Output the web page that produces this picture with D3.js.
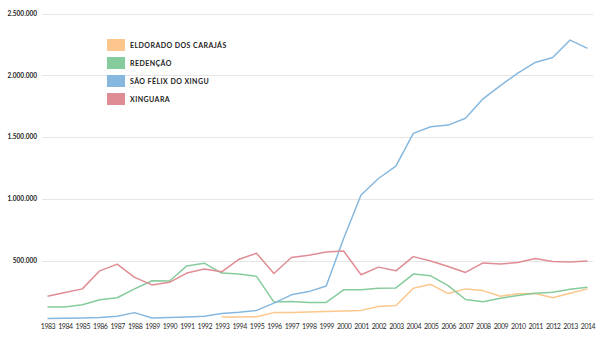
<!DOCTYPE html>
<html><head><meta charset="utf-8">
<script src="https://cdn.jsdelivr.net/npm/d3@7"></script>
<style>body{margin:0;background:#fff}svg{display:block}</style>
</head><body><svg id="c" width="600" height="339"></svg>
<script>
const years = d3.range(1983, 2015);
const yTicks = [500000, 1000000, 1500000, 2000000, 2500000];
const seriesNames = ["ELDORADO DOS CARAJÁS", "REDENÇÃO", "SÃO FÉLIX DO XINGU", "XINGUARA"];
const seriesColors = ["#fdc68c", "#86cb9c", "#86b8df", "#e08c94"];
const eldorado = [null,null,null,null,null,null,null,null,null,null,
  45000,45000,47000,80000,81000,85000,88000,93000,98000,130000,138000,277000,309000,234000,272000,258000,213000,232000,235000,200000,236000,272000];
const redencao = [125000,125000,144000,184000,200000,272000,338000,336000,458000,480000,
  400000,392000,373000,165000,170000,162000,162000,264000,264000,277000,280000,392000,378000,298000,186000,168000,197000,218000,237000,245000,269000,285000];
const saoFelix = [32000,35000,37000,40000,50000,80000,37000,40000,45000,50000,
  72000,82000,98000,157000,224000,250000,295000,680000,1032000,1165000,1266000,1530000,1584000,1597000,1653000,1810000,1917000,2018000,2104000,2144000,2285000,2218000];
const xinguara = [213000,242000,272000,418000,472000,365000,304000,325000,400000,432000,
  410000,512000,560000,397000,526000,544000,570000,578000,386000,448000,418000,533000,498000,453000,405000,482000,474000,485000,517000,493000,490000,498000];
const seriesValues = [eldorado, redencao, saoFelix, xinguara];

const svg = d3.select("#c");
const x = d3.scaleLinear().domain([1983, 2014]).range([47.5, 587.5]);
const y = d3.scaleLinear().domain([0, 2500000]).range([322.5, 13.5]);
const fmt = v => d3.format(",")(v).replace(/,/g, ".");

// grid
svg.append("g").selectAll("line").data(yTicks).join("line")
  .attr("x1", 42).attr("x2", 593)
  .attr("y1", d => Math.round(y(d)) + 0.5).attr("y2", d => Math.round(y(d)) + 0.5)
  .attr("stroke", "#e6e6e6").attr("stroke-width", 1);

// y labels
svg.append("g").selectAll("text").data(yTicks).join("text")
  .attr("x", 37).attr("y", d => y(d) + 2.2)
  .attr("text-anchor", "end")
  .attr("font-family", "Lato, sans-serif").attr("font-weight", "bold")
  .attr("font-size", 6.5).attr("fill", "#222")
  .text(fmt);

// x axis labels
const xAxis = d3.axisBottom(x).tickValues(years).tickFormat(d3.format("d")).tickSize(0).tickPadding(0);
const gx = svg.append("g").attr("transform", "translate(0,328.7)").call(xAxis);
gx.select(".domain").remove();
gx.selectAll("text").attr("font-family", "Lato, sans-serif").attr("font-size", 7)
  .attr("letter-spacing", -0.45).attr("fill", "#2a2a2a").attr("dy", 0);

// lines
const line = d3.line().defined(d => d[1] != null).x(d => x(d[0])).y(d => y(d[1]));
svg.append("g").selectAll("path").data(seriesValues).join("path")
  .attr("d", vals => line(years.map((yr, i) => [yr, vals[i]])))
  .attr("fill", "none")
  .attr("stroke", (d, i) => seriesColors[i])
  .attr("stroke-width", 1.5)
  .attr("stroke-linejoin", "round");

// legend
const lg = svg.append("g").attr("transform", "translate(107,39)");
const items = lg.selectAll("g").data(seriesNames).join("g")
  .attr("transform", (d, i) => `translate(0,${i * 18})`);
items.append("rect").attr("width", 18).attr("height", 12)
  .attr("fill", (d, i) => seriesColors[i]);
items.append("text").attr("x", 23).attr("y", 8.6)
  .attr("font-family", "Lato, sans-serif").attr("font-weight", "bold")
  .attr("font-size", 7).attr("letter-spacing", 0.45).attr("fill", "#222")
  .text(d => d);
</script></body></html>
